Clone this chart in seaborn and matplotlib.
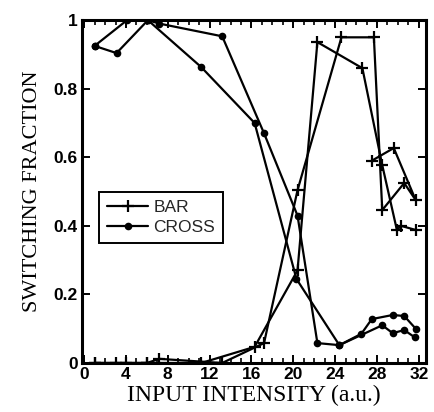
import matplotlib
matplotlib.use("Agg")
import matplotlib.pyplot as plt
from matplotlib.lines import Line2D
from matplotlib.ticker import MultipleLocator, FixedLocator
import seaborn as sns
import pandas as pd

# ---- data ----
bar_run1_x = [1, 4, 6, 7.2, 13.2, 17.2, 20.4, 24.6, 27.7, 28.5, 30.6, 31.7, 29.6, 27.5]
bar_run1_y = [0, 0, 0, 0.012, 0, 0.058, 0.504, 0.95, 0.95, 0.446, 0.525, 0.475, 0.627, 0.59]
bar_run2_x = [31.7, 30.3, 29.9, 28.5, 26.6, 22.3, 20.4, 16.3, 11.2, 6, 3, 1]
bar_run2_y = [0.388, 0.40, 0.388, 0.577, 0.86, 0.936, 0.27, 0.047, 0, 0, 0, 0]

cross_run1_x = [1, 4.1, 6.1, 7.2, 13.2, 17.2, 20.4, 22.3, 24.4, 26.5, 27.5, 29.5, 30.6, 31.7]
cross_run1_y = [0.925, 1.0, 1.0, 0.99, 0.953, 0.67, 0.43, 0.058, 0.052, 0.085, 0.128, 0.14, 0.137, 0.10]
cross_run2_x = [31.6, 30.6, 29.5, 28.5, 24.4, 20.3, 16.3, 11.2, 6.1, 3.1, 1]
cross_run2_y = [0.075, 0.096, 0.087, 0.11, 0.052, 0.245, 0.70, 0.863, 1.0, 0.904, 0.925]

x_ticks = [0, 4, 8, 12, 16, 20, 24, 28, 32]
y_ticks = [0, 0.2, 0.4, 0.6, 0.8, 1.0]
y_tick_labels = ["0", "0.2", "0.4", "0.6", "0.8", "1"]

def frame(xs1, ys1, xs2, ys2):
    return pd.DataFrame({
        "x": xs1 + xs2,
        "y": ys1 + ys2,
        "run": [1] * len(xs1) + [2] * len(xs2),
    })

bar_df = frame(bar_run1_x, bar_run1_y, bar_run2_x, bar_run2_y)
cross_df = frame(cross_run1_x, cross_run1_y, cross_run2_x, cross_run2_y)

sns.set_theme(style="ticks")
plt.rcParams["font.family"] = ["Liberation Sans", "DejaVu Sans"]

fig = plt.figure(figsize=(4.34, 4.12), dpi=100)
ax = fig.add_axes([0.189, 0.119, 0.793, 0.832])

lw = 1.6
ms_plus = 9
ms_dot = 5.5
sns.lineplot(data=bar_df, x="x", y="y", units="run", estimator=None, sort=False,
             color="black", linewidth=lw, marker="+", markersize=ms_plus,
             markeredgewidth=1.6, markeredgecolor="black", ax=ax, legend=False)
sns.lineplot(data=cross_df, x="x", y="y", units="run", estimator=None, sort=False,
             color="black", linewidth=lw, marker="o", markersize=ms_dot,
             markeredgewidth=0, markerfacecolor="black", ax=ax, legend=False)

ax.set_xlim(-0.2, 32.7)
ax.set_ylim(0, 1.0)
ax.xaxis.set_major_locator(FixedLocator(x_ticks))
ax.xaxis.set_minor_locator(MultipleLocator(1))
ax.yaxis.set_major_locator(FixedLocator(y_ticks))
ax.set_yticklabels(y_tick_labels)
ax.set_xticklabels([str(t) for t in x_ticks])

for s in ax.spines.values():
    s.set_linewidth(2.2)
    s.set_color("black")
    s.set_visible(True)
ax.tick_params(which="both", direction="in", top=True, right=True, color="black")
ax.tick_params(which="major", length=6, width=1.4, labelsize=12.5, pad=3)
ax.tick_params(which="minor", length=3.5, width=1.2)
for lab in ax.get_xticklabels() + ax.get_yticklabels():
    lab.set_fontweight("bold")
    lab.set_color("black")

ax.set_xlabel("INPUT INTENSITY (a.u.)", family=["Liberation Serif", "DejaVu Serif"],
              fontsize=17, labelpad=2, color="black")
ax.set_ylabel("SWITCHING FRACTION", family=["Liberation Serif", "DejaVu Serif"],
              fontsize=16, labelpad=8, color="black")

handles = [
    Line2D([0], [0], color="black", lw=lw, marker="+", markersize=ms_plus, markeredgewidth=1.6),
    Line2D([0], [0], color="black", lw=lw, marker="o", markersize=ms_dot, markeredgewidth=0),
]
leg = ax.legend(handles, ["BAR", "CROSS"], loc="upper left", bbox_to_anchor=(0.049, 0.499),
                borderaxespad=0, frameon=True, fancybox=False, fontsize=12.5,
                handlelength=2.4, handletextpad=0.3, borderpad=0.45, labelspacing=0.3)
leg.get_frame().set_edgecolor("black")
leg.get_frame().set_linewidth(1.4)
leg.get_frame().set_alpha(1)

fig.savefig("out.png", dpi=100)
